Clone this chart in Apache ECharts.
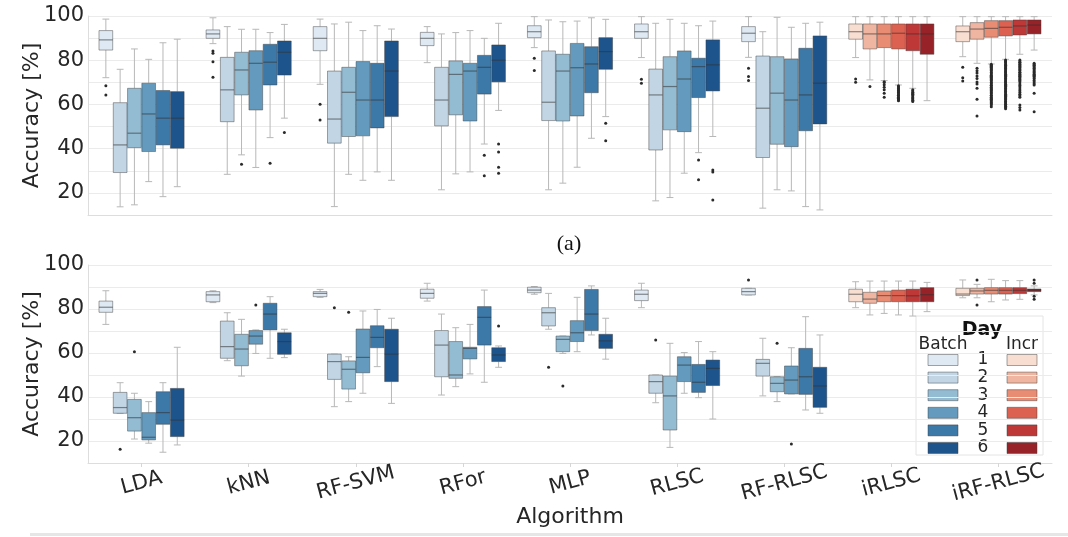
<!DOCTYPE html>
<html>
<head>
<meta charset="utf-8">
<script src="https://cdn.jsdelivr.net/npm/echarts@6/dist/echarts.min.js"></script>
<style>html,body{margin:0;padding:0;background:#fff;}#chart{width:1068px;height:537px;}</style>
</head>
<body>
<div id="chart"></div>
<script>
// ---------- categories ----------
const algorithms = ['LDA', 'kNN', 'RF-SVM', 'RFor', 'MLP', 'RLSC', 'RF-RLSC', 'iRLSC', 'iRF-RLSC'];
const dayLabels = ['1', '2', '3', '4', '5', '6'];
const incrementalAlgorithms = ['iRLSC', 'iRF-RLSC'];
const yTickLabels = [20, 40, 60, 80, 100];

// ---------- panel (a): per algorithm, per day: [lowWhisker, Q1, median, Q3, highWhisker] ----------
const topLDA = [[72.1, 84.6, 89.2, 93.4, 98.6], [13.7, 29.2, 41.7, 60.8, 75.9], [14.6, 40.5, 47.0, 67.3, 85.1], [25.1, 38.7, 55.7, 69.6, 80.4], [18.3, 41.7, 53.8, 66.3, 87.9], [22.8, 40.2, 53.8, 65.8, 89.5]];
const topKNN = [[87.5, 89.9, 91.9, 93.7, 99.2], [28.4, 52.2, 66.6, 81.3, 95.2], [37.2, 64.3, 75.6, 83.6, 94.0], [31.5, 57.5, 78.6, 84.3, 94.0], [45.0, 68.8, 79.1, 87.2, 92.5], [53.8, 73.3, 83.6, 88.7, 96.2]];
const topRFSVM = [[69.1, 84.3, 89.9, 95.2, 98.6], [13.8, 42.5, 53.4, 75.1, 96.4], [28.4, 45.5, 65.5, 76.8, 97.2], [25.7, 45.8, 62.0, 79.4, 93.4], [29.5, 49.4, 62.0, 78.6, 95.6], [25.7, 54.5, 75.1, 88.7, 94.1]];
const topRFor = [[78.9, 86.6, 89.9, 92.6, 95.2], [21.4, 50.3, 62.0, 76.8, 91.9], [28.6, 55.3, 73.6, 79.7, 92.5], [29.5, 52.5, 75.1, 78.6, 93.4], [42.1, 64.7, 76.8, 82.2, 89.9], [57.3, 70.2, 80.0, 86.9, 96.7]];
const topMLP = [[85.7, 90.2, 92.9, 95.6, 99.7], [21.4, 52.7, 61.0, 84.2, 98.2], [24.4, 52.5, 75.1, 82.7, 97.4], [31.6, 54.8, 76.6, 87.6, 97.7], [44.7, 65.3, 78.3, 86.1, 99.2], [54.5, 75.9, 83.9, 90.2, 98.5]];
const topRLSC = [[81.2, 89.9, 92.9, 96.4, 99.7], [16.4, 39.4, 64.3, 76.0, 96.7], [17.9, 48.5, 68.1, 81.6, 98.5], [28.9, 47.7, 71.5, 84.2, 96.7], [38.2, 63.1, 77.1, 80.9, 95.6], [45.5, 66.1, 77.9, 89.2, 97.7]];
const topRFRLSC = [[81.3, 88.4, 92.2, 95.2, 99.7], [13.1, 36.0, 58.3, 81.9, 92.9], [21.4, 42.0, 65.1, 81.6, 99.4], [20.9, 40.9, 62.0, 80.6, 94.9], [13.8, 48.1, 64.3, 85.4, 96.7], [12.3, 51.2, 69.6, 91.0, 97.2]];
const topIRLSC = [[81.2, 89.5, 92.9, 96.4, 99.7], [71.1, 85.1, 91.9, 96.4, 99.7], [70.8, 85.7, 91.9, 96.4, 99.7], [68.8, 85.1, 92.2, 96.4, 99.7], [67.3, 84.3, 91.9, 96.4, 99.7], [61.7, 82.7, 91.9, 96.4, 99.7]];
const topIRFRLSC = [[81.6, 88.4, 92.9, 95.5, 99.7], [78.6, 89.5, 94.1, 97.0, 99.7], [78.3, 90.4, 94.4, 97.9, 99.7], [80.4, 91.0, 94.9, 97.9, 99.7], [82.7, 91.4, 95.5, 98.2, 99.7], [84.6, 91.9, 95.9, 98.2, 99.7]];

// panel (a) outliers, per algorithm, per day
const topFliersLDA = [[68.4, 64.3], [], [], [], [], []];
const topFliersKNN = [[84.2, 83.2, 79.3, 72.3], [], [33.0], [], [33.4], [47.3]];
const topFliersRFSVM = [[60.1, 53.0], [], [], [], [], []];
const topFliersRFor = [[], [], [], [], [37.0, 27.8], [42.1, 38.5, 31.6, 28.9]];
const topFliersMLP = [[80.9, 75.3], [], [], [], [], [51.5, 43.6]];
const topFliersRLSC = [[71.4, 69.6], [], [], [], [34.9, 25.9], [30.4, 29.4, 16.8]];
const topFliersRFRLSC = [[76.4, 72.6, 70.8], [], [], [], [], []];
const topFliersIRLSC = [
  [71.5, 70.0],
  [68.1],
  [70.3, 69.9, 68.9, 67.8, 66.6, 65.1, 63.2],
  [68.4, 68.0, 67.4, 67.1, 66.5, 66.2, 65.6, 65.3, 64.7, 64.2, 63.9, 63.3, 62.8, 62.5, 62.0, 61.7],
  [66.6, 66.1, 65.5, 65.0, 64.6, 64.0, 63.4, 62.9, 62.5, 61.9, 61.3],
  []
];
const topFliersIRFRLSC = [
  [76.8, 72.1, 70.6],
  [76.4, 75.2, 74.2, 72.9, 71.7, 70.2, 69.2, 67.3, 62.3, 54.8],
  [78.2, 77.7, 77.3, 76.8, 76.2, 75.8, 75.3, 74.7, 74.3, 73.8, 73.2, 72.8, 72.3, 71.7, 71.3, 70.8, 70.2, 69.8, 69.3, 68.7, 68.3, 67.8, 67.2, 66.8, 66.3, 65.7, 65.3, 64.8, 64.2, 63.8, 63.3, 62.7, 62.3, 61.8, 61.2, 60.8, 60.3, 59.7, 59.0],
  [80.1, 79.6, 79.2, 78.7, 78.1, 77.7, 77.2, 76.6, 76.2, 75.7, 75.1, 74.7, 74.2, 73.6, 73.2, 72.7, 72.1, 71.7, 71.2, 70.6, 70.2, 69.7, 69.1, 68.7, 68.2, 67.6, 67.2, 66.7, 66.1, 65.7, 65.2, 64.6, 64.2, 63.7, 63.1, 62.7, 62.2, 61.6, 61.2, 60.7, 60.1, 59.7, 59.2, 58.6, 58.0],
  [80.1, 79.6, 79.1, 78.7, 78.2, 77.6, 77.2, 76.7, 76.1, 75.7, 75.2, 74.6, 74.2, 73.7, 73.1, 72.7, 72.2, 71.6, 71.2, 70.7, 70.1, 69.3, 68.6, 67.9, 67.0, 66.2, 65.4, 64.6, 63.9, 63.3, 59.8, 58.6, 57.5],
  [78.6, 78.1, 77.7, 77.2, 76.6, 76.2, 75.7, 75.1, 74.7, 74.2, 73.6, 73.2, 72.7, 72.1, 71.6, 70.8, 70.1, 69.4, 68.8, 65.1, 56.7]
];

// ---------- panel (b) ----------
const botLDA = [[73.0, 78.5, 80.8, 83.6, 88.3], [32.6, 32.6, 35.2, 42.1, 46.5], [20.9, 24.5, 30.6, 38.9, 41.7], [19.0, 20.5, 21.7, 32.9, 37.9], [14.9, 27.6, 32.9, 42.4, 46.5], [18.2, 22.0, 29.5, 43.9, 62.6]];
const botKNN = [[82.9, 83.3, 86.4, 87.9, 88.3], [56.5, 57.6, 62.9, 74.5, 78.3], [49.5, 54.2, 61.8, 68.5, 75.3], [59.8, 64.0, 67.7, 70.2, 70.5], [57.6, 70.5, 77.7, 82.6, 85.6], [57.9, 59.4, 65.2, 69.2, 70.8]];
const botRFSVM = [[85.3, 85.6, 87.1, 87.9, 88.9], [35.6, 48.0, 56.1, 59.5, 59.5], [37.9, 43.6, 52.6, 56.4, 58.3], [41.7, 51.0, 58.0, 70.9, 79.1], [53.8, 62.4, 67.1, 72.4, 79.8], [37.1, 47.0, 59.5, 70.8, 75.8]];
const botRFor = [[83.6, 84.9, 87.1, 89.0, 91.7], [40.9, 49.2, 63.6, 70.2, 77.7], [44.7, 48.5, 50.0, 65.2, 71.5], [50.5, 57.3, 62.1, 62.6, 73.0], [46.7, 63.6, 76.2, 81.1, 88.6], [53.5, 56.1, 59.1, 62.4, 63.2]];
const botMLP = [[86.7, 87.4, 88.6, 89.9, 90.2], [70.8, 72.3, 78.3, 80.6, 87.1], [59.8, 60.6, 66.2, 67.7, 67.7], [60.6, 65.2, 69.2, 74.7, 85.3], [68.2, 70.2, 77.7, 88.9, 90.5], [57.2, 62.1, 65.5, 68.5, 75.8]];
const botRLSC = [[80.6, 83.8, 86.7, 88.6, 91.7], [37.4, 41.7, 47.0, 50.0, 50.0], [17.1, 25.0, 40.5, 49.5, 64.4], [41.7, 47.0, 54.5, 58.3, 60.2], [39.7, 42.1, 46.7, 54.8, 65.2], [30.0, 45.2, 53.0, 56.8, 60.6]];
const botRFRLSC = [[86.4, 86.4, 87.9, 89.4, 89.4], [40.5, 49.5, 55.3, 57.1, 66.7], [37.9, 42.4, 46.2, 49.2, 49.2], [41.4, 41.4, 47.7, 54.1, 62.4], [34.1, 41.2, 49.2, 62.1, 76.5], [32.6, 35.3, 45.0, 53.5, 68.2]];
const botIRLSC = [[80.6, 83.3, 86.7, 89.0, 92.4], [77.3, 82.6, 84.5, 87.6, 92.7], [78.0, 83.3, 86.1, 88.2, 92.7], [77.3, 83.3, 86.1, 88.6, 92.7], [76.8, 83.3, 86.0, 89.0, 92.7], [78.8, 83.3, 86.5, 89.7, 92.1]];
const botIRFRLSC = [[85.1, 86.1, 86.8, 89.4, 93.2], [85.1, 86.8, 88.2, 89.4, 91.2], [83.3, 86.8, 88.5, 89.7, 93.5], [84.1, 86.8, 88.5, 89.7, 92.9], [84.4, 87.0, 88.5, 89.7, 92.9], [86.4, 87.9, 88.5, 89.1, 90.5]];

const botFliersLDA = [[], [16.2], [60.6], [], [], []];
const botFliersKNN = [[], [], [], [81.8], [], []];
const botFliersRFSVM = [[], [80.6], [78.5], [], [], []];
const botFliersRFor = [[], [], [], [], [], [72.3]];
const botFliersMLP = [[], [53.5], [45.0], [], [], []];
const botFliersRLSC = [[], [65.9], [], [], [], []];
const botFliersRFRLSC = [[93.2], [], [64.4], [18.6], [], []];
const botFliersIRLSC = [[], [], [], [], [], []];
const botFliersIRFRLSC = [[], [93.2, 81.8], [], [], [], [93.2, 91.7, 85.8, 84.4]];

// ---------- colours ----------
const batchColors = ['#dee9f3', '#c1d5e5', '#93bbd2', '#639abe', '#3c78a8', '#1e548c'];
const incrColors = ['#f8ddd1', '#efb5a0', '#e98c74', '#dd6150', '#be3837', '#972328'];

const topStats = [topLDA, topKNN, topRFSVM, topRFor, topMLP, topRLSC, topRFRLSC, topIRLSC, topIRFRLSC];
const topFliers = [topFliersLDA, topFliersKNN, topFliersRFSVM, topFliersRFor, topFliersMLP, topFliersRLSC, topFliersRFRLSC, topFliersIRLSC, topFliersIRFRLSC];
const botStats = [botLDA, botKNN, botRFSVM, botRFor, botMLP, botRLSC, botRFRLSC, botIRLSC, botIRFRLSC];
const botFliers = [botFliersLDA, botFliersKNN, botFliersRFSVM, botFliersRFor, botFliersMLP, botFliersRLSC, botFliersRFRLSC, botFliersIRLSC, botFliersIRFRLSC];

function boxData(stats) {
  const out = [];
  stats.forEach((perDay, a) => perDay.forEach((s, d) => {
    out.push([a, d, s[0], s[1], s[2], s[3], s[4], incrementalAlgorithms.includes(algorithms[a]) ? 1 : 0]);
  }));
  return out;
}
function flierData(fl) {
  const out = [];
  fl.forEach((perDay, a) => perDay.forEach((vals, d) => vals.forEach(v => out.push([a, d, v]))));
  return out;
}

const FONT = 'DejaVu Sans';
const TXT = '#262626';
const GRID_C = '#ebebeb';
const WHISK = '#b8b8b8';
const EDGE = 'rgba(60,60,60,0.45)';
const MED = 'rgba(50,50,50,0.55)';

function slotX(api, cat, day) {
  const band = api.size([1, 0])[0];
  const slot = band * 0.8 / dayLabels.length;
  const x0 = api.coord([cat, 50])[0];
  return { cx: x0 + (day - (dayLabels.length - 1) / 2) * slot, slot };
}

function renderBox(params, api) {
  const cat = api.value(0), day = api.value(1);
  const { cx, slot } = slotX(api, cat, day);
  const half = slot * 0.96 / 2;
  const cap = half * 0.5;
  const y = v => api.coord([cat, v])[1];
  const lo = y(api.value(2)), q1 = y(api.value(3)), md = y(api.value(4)), q3 = y(api.value(5)), hi = y(api.value(6));
  const fill = api.value(7) ? incrColors[day] : batchColors[day];
  const ws = { stroke: WHISK, lineWidth: 1 };
  return {
    type: 'group',
    children: [
      { type: 'line', shape: { x1: cx, y1: hi, x2: cx, y2: q3 }, style: ws },
      { type: 'line', shape: { x1: cx, y1: q1, x2: cx, y2: lo }, style: ws },
      { type: 'line', shape: { x1: cx - cap, y1: hi, x2: cx + cap, y2: hi }, style: ws },
      { type: 'line', shape: { x1: cx - cap, y1: lo, x2: cx + cap, y2: lo }, style: ws },
      { type: 'rect', shape: { x: cx - half, y: q3, width: 2 * half, height: Math.max(q1 - q3, 1) }, style: { fill: fill, stroke: EDGE, lineWidth: 1 } },
      { type: 'line', shape: { x1: cx - half, y1: md, x2: cx + half, y2: md }, style: { stroke: MED, lineWidth: 1.2 } }
    ]
  };
}
function renderFlier(params, api) {
  const cat = api.value(0), day = api.value(1);
  const { cx } = slotX(api, cat, day);
  const p = api.coord([cat, api.value(2)]);
  return { type: 'circle', shape: { cx: cx, cy: p[1], r: 1.5 }, style: { fill: '#2a2a2a' } };
}

function yAxis(gridIndex) {
  return {
    type: 'value', gridIndex: gridIndex, min: 10, max: 100, interval: 10,
    name: 'Accuracy [%]', nameLocation: 'middle', nameGap: 45, nameMoveOverlap: false,
    nameTextStyle: { fontFamily: FONT, fontSize: 22, color: TXT },
    axisLine: { show: true, lineStyle: { color: '#dddddd' } },
    axisTick: { show: false },
    axisLabel: { fontFamily: FONT, fontSize: 21, color: TXT, margin: 4,
      formatter: v => (yTickLabels.includes(v) ? String(v) : '') },
    splitLine: { show: true, lineStyle: { color: GRID_C, width: 1 } }
  };
}

const chart = echarts.init(document.getElementById('chart'), null, { renderer: 'canvas' });

function txt(x, y, text, size, weight, color) {
  return { type: 'text', x: x, y: y, style: { text: text, fontFamily: FONT, fontSize: size, fontWeight: weight || 'normal', fill: color || TXT, align: 'center', verticalAlign: 'middle' } };
}
const legendChildren = [
  { type: 'rect', shape: { x: 916, y: 316, width: 127, height: 139 }, style: { fill: '#fff', stroke: '#e4e4e4', lineWidth: 1 } },
  txt(982, 330, 'Day', 19, 'bold', '#111'),
  txt(943, 345, 'Batch', 17),
  txt(1022, 345, 'Incr', 17)
];
dayLabels.forEach((lab, i) => {
  const yc = 360 + i * 17.6;
  legendChildren.push({ type: 'rect', shape: { x: 928, y: yc - 5.5, width: 30, height: 11 }, style: { fill: batchColors[i], stroke: EDGE, lineWidth: 1 } });
  legendChildren.push(txt(983, yc, lab, 17));
  legendChildren.push({ type: 'rect', shape: { x: 1007, y: yc - 5.5, width: 30, height: 11 }, style: { fill: incrColors[i], stroke: EDGE, lineWidth: 1 } });
});

chart.setOption({
  animation: false,
  backgroundColor: '#ffffff',
  grid: [
    { left: 88, right: 16, top: 16, height: 199 },
    { left: 88, right: 16, top: 265, height: 198 }
  ],
  xAxis: [
    { type: 'category', gridIndex: 0, data: algorithms,
      axisLine: { show: true, lineStyle: { color: '#dddddd' } }, axisTick: { show: false }, axisLabel: { show: false }, splitLine: { show: false } },
    { type: 'category', gridIndex: 1, data: algorithms,
      name: 'Algorithm', nameLocation: 'middle', nameGap: 43, nameMoveOverlap: false,
      nameTextStyle: { fontFamily: FONT, fontSize: 22, color: TXT },
      axisLine: { show: true, lineStyle: { color: '#dddddd' } },
      axisTick: { show: true, alignWithLabel: true, length: 4, lineStyle: { color: '#d6d6d6' } },
      axisLabel: { fontFamily: FONT, fontSize: 21, color: TXT, rotate: 15, align: 'center', verticalAlign: 'middle', margin: 20, interval: 0 },
      splitLine: { show: false } }
  ],
  yAxis: [yAxis(0), yAxis(1)],
  series: [
    { type: 'custom', name: 'box-a', xAxisIndex: 0, yAxisIndex: 0, renderItem: renderBox, data: boxData(topStats), encode: { x: 0, y: [2, 3, 4, 5, 6] }, silent: true, z: 2 },
    { type: 'custom', name: 'fliers-a', xAxisIndex: 0, yAxisIndex: 0, renderItem: renderFlier, data: flierData(topFliers), encode: { x: 0, y: 2 }, silent: true, z: 3 },
    { type: 'custom', name: 'box-b', xAxisIndex: 1, yAxisIndex: 1, renderItem: renderBox, data: boxData(botStats), encode: { x: 0, y: [2, 3, 4, 5, 6] }, silent: true, z: 2 },
    { type: 'custom', name: 'fliers-b', xAxisIndex: 1, yAxisIndex: 1, renderItem: renderFlier, data: flierData(botFliers), encode: { x: 0, y: 2 }, silent: true, z: 3 }
  ],
  graphic: [
    { type: 'text', x: 569, y: 244, z: 50, style: { text: '(a)', fontFamily: 'Liberation Serif', fontSize: 22, fill: '#111', align: 'center', verticalAlign: 'middle' } },
    { type: 'rect', z: 50, shape: { x: 30, y: 533, width: 1038, height: 3 }, style: { fill: '#e6e6e6' } },
    { type: 'group', z: 100, children: legendChildren }
  ]
});
</script>
</body>
</html>
